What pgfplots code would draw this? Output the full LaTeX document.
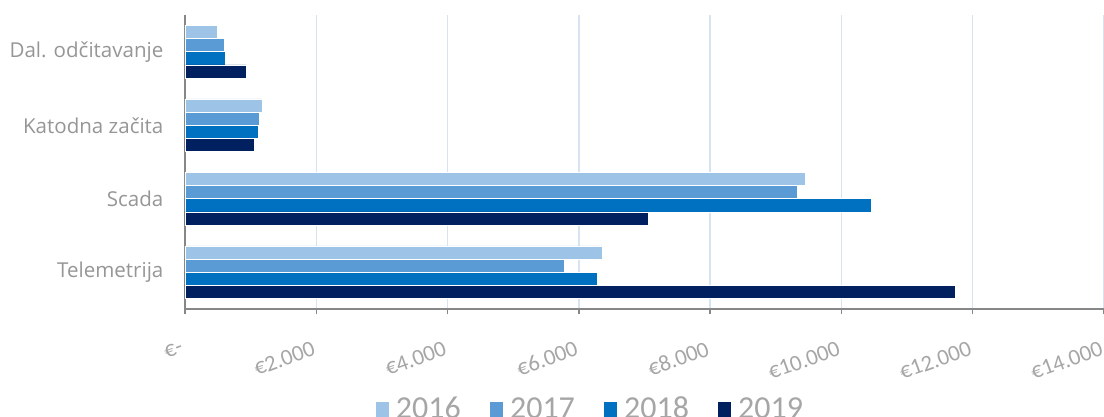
\documentclass[border=0pt]{standalone}
\usepackage{pgfplots}
\pgfplotsset{compat=1.18}
\usepackage{fontspec}
\setmainfont{Carlito}
\newfontfamily\catfont{Open Sans}
\definecolor{c16}{HTML}{9DC3E6}
\definecolor{c17}{HTML}{5B9BD5}
\definecolor{c18}{HTML}{0070C0}
\definecolor{c19}{HTML}{002060}
\definecolor{gridc}{HTML}{D6E4F2}
\definecolor{axc}{HTML}{878787}
\definecolor{txc}{HTML}{A6A6A6}
\definecolor{catc}{HTML}{969696}
\begin{document}
\begin{tikzpicture}
\useasboundingbox (-138.75pt,-81pt) rectangle (689.25pt,231.75pt);
\begin{axis}[
  scale only axis,
  width=689.25pt, height=220.5pt,
  xmin=0, xmax=14000,
  ymin=-0.5, ymax=3.5,
  y dir=reverse,
  scaled x ticks=false,
  axis x line*=bottom, axis y line*=left,
  axis line style={-, draw=axc, line width=1.3pt},
  x axis line style={line width=1.5pt},
  y axis line style={line width=1.1pt},
  xtick={0,2000,4000,6000,8000,10000,12000,14000},
  xticklabels={€-,€2.000,€4.000,€6.000,€8.000,€10.000,€12.000,€14.000},
  ytick={0,1,2,3},
  yticklabels={Dal. odčitavanje,Katodna začita,Scada,Telemetrija},
  tick align=outside,
  major tick length=4pt,
  xtick style={draw=axc, line width=1pt},
  ytick style={draw=none},
  xmajorgrids,
  major grid style={draw=gridc, line width=1pt},
  xticklabel style={font=\fontsize{17}{17}\selectfont, text=txc, rotate=20, anchor=north east, inner sep=0pt, yshift=-17pt, xshift=-10pt},
  yticklabel style={font=\catfont\fontsize{15.4}{16}\selectfont, text=catc, anchor=east, inner sep=0pt, xshift=-12pt},
  legend style={at={(0.441,-0.340)}, anchor=center, draw=none, inner sep=0pt,
    font=\fontsize{24}{24}\selectfont, text=txc, legend columns=4,
    /tikz/every odd column/.append style={column sep=3pt},
    /tikz/every even column/.append style={column sep=19pt}},
  legend image code/.code={\fill[#1] (0pt,-7pt) rectangle (10.5pt,6pt);},
  every axis plot/.append style={xbar, bar width=0.18, draw=white, line width=0.4pt},
]
\addplot[fill=c16, bar shift=-0.27] coordinates {(490,0) (1170,1) (9450,2) (6360,3)};
\addplot[fill=c17, bar shift=-0.09] coordinates {(595,0) (1130,1) (9330,2) (5780,3)};
\addplot[fill=c18, bar shift=0.09] coordinates {(610,0) (1110,1) (10460,2) (6280,3)};
\addplot[fill=c19, bar shift=0.27] coordinates {(930,0) (1050,1) (7060,2) (11740,3)};
\legend{2016,2017,2018,2019}
\end{axis}
\end{tikzpicture}
\end{document}
